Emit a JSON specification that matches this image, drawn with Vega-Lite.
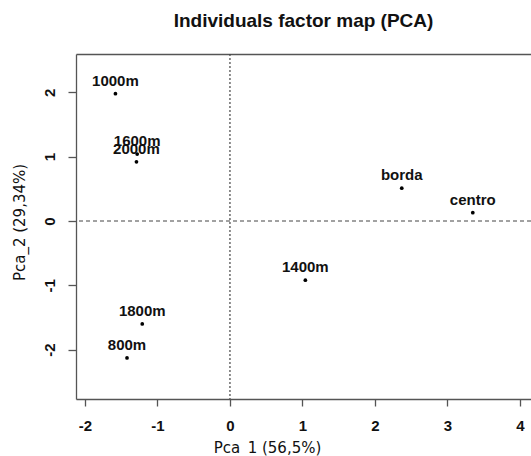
{
  "$schema": "https://vega.github.io/schema/vega-lite/v6.json",
  "width": 455,
  "height": 345,
  "autosize": "none",
  "padding": {"left": 76, "top": 54, "right": 0, "bottom": 57},
  "background": "white",
  "title": {
    "text": "Individuals factor map (PCA)",
    "font": "Liberation Sans",
    "fontSize": 19,
    "fontWeight": "bold",
    "color": "#111",
    "anchor": "middle",
    "offset": 22
  },
  "config": {
    "view": {"stroke": null},
    "axis": {
      "grid": false,
      "domainColor": "#555",
      "domainWidth": 1.3,
      "tickColor": "#555",
      "tickWidth": 1.3,
      "tickSize": 7,
      "labelFont": "Liberation Sans",
      "labelFontWeight": "bold",
      "labelFontSize": 15,
      "labelColor": "#111",
      "titleFont": "DejaVu Sans",
      "titleFontWeight": "normal",
      "titleFontSize": 15,
      "titleColor": "#111"
    }
  },
  "data": {
    "values": [
      {"name": "1000m", "dim1": -1.58, "dim2": 1.98},
      {"name": "1600m", "dim1": -1.28, "dim2": 1.04},
      {"name": "2000m", "dim1": -1.29, "dim2": 0.92},
      {"name": "1800m", "dim1": -1.21, "dim2": -1.60},
      {"name": "800m", "dim1": -1.42, "dim2": -2.13},
      {"name": "borda", "dim1": 2.37, "dim2": 0.51},
      {"name": "centro", "dim1": 3.35, "dim2": 0.13},
      {"name": "1400m", "dim1": 1.04, "dim2": -0.92}
    ]
  },
  "layer": [
    {
      "data": {"values": [{"zero": 0}]},
      "mark": {"type": "rule", "color": "#444", "strokeDash": [4, 3], "strokeWidth": 1},
      "encoding": {"y": {"field": "zero", "type": "quantitative"}}
    },
    {
      "data": {"values": [{"zero": 0}]},
      "mark": {"type": "rule", "color": "#444", "strokeDash": [2, 2], "strokeWidth": 1.2},
      "encoding": {"x": {"field": "zero", "type": "quantitative", "axis": null}}
    },
    {
      "mark": {"type": "point", "filled": true, "color": "#000", "size": 14, "opacity": 1},
      "encoding": {
        "x": {
          "field": "dim1",
          "type": "quantitative",
          "scale": {"domain": [-2.124, 4.153], "nice": false, "zero": false},
          "axis": {
            "orient": "bottom",
            "values": [-2, -1, 0, 1, 2, 3, 4],
            "labelExpr": "datum.value < 0 ? '-' + (-datum.value) : '' + datum.value",
            "labelBaseline": "middle",
            "labelPadding": 19,
            "title": "Pca_1 (56,5%)",
            "titleX": 191,
            "titleY": 53,
            "titleBaseline": "alphabetic",
            "titleAnchor": "middle",
            "titleAlign": "center"
          }
        },
        "y": {
          "field": "dim2",
          "type": "quantitative",
          "scale": {"domain": [-2.768, 2.597], "nice": false, "zero": false},
          "axis": {
            "values": [-2, -1, 0, 1, 2],
            "labelExpr": "datum.value < 0 ? '-' + (-datum.value) : '' + datum.value",
            "labelAngle": -90,
            "labelAlign": "center",
            "labelBaseline": "middle",
            "labelPadding": 19,
            "tickSize": 8,
            "title": "Pca_2 (29,34%)",
            "titleX": -57,
            "titleY": 168,
            "titleAlign": "center",
            "titleBaseline": "middle"
          }
        }
      }
    },
    {
      "mark": {
        "type": "text",
        "font": "Liberation Sans",
        "fontWeight": "bold",
        "fontSize": 15,
        "color": "#111",
        "dy": -13,
        "baseline": "middle",
        "align": "center"
      },
      "encoding": {
        "x": {
          "field": "dim1",
          "type": "quantitative",
          "axis": {"orient": "top", "labels": false, "ticks": false, "title": null, "domain": true}
        },
        "y": {"field": "dim2", "type": "quantitative"},
        "text": {"field": "name"}
      }
    }
  ],
  "resolve": {"axis": {"x": "independent"}}
}
